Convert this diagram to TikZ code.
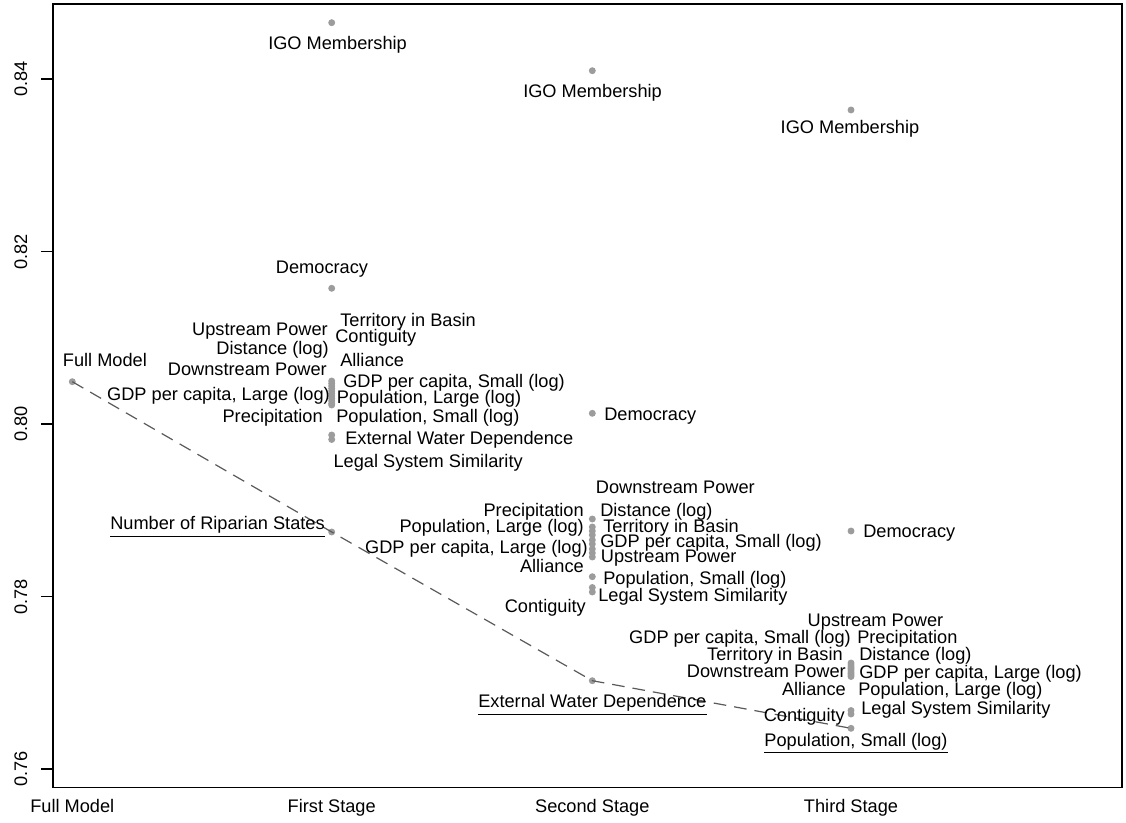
\documentclass[tikz,border=0pt]{standalone}
\usepackage{fontspec}
\setmainfont{Liberation Sans}
\definecolor{ptgray}{HTML}{9C9C9C}
\definecolor{lngray}{HTML}{5A5A5A}
\begin{document}
\begin{tikzpicture}[x=0.75pt,y=-0.75pt,
  lab/.style={font=\fontsize{13.65}{16}\selectfont, inner sep=0pt, text=black},
  L/.style={lab, anchor=base east},
  R/.style={lab, anchor=base west},
  C/.style={lab, anchor=base},
  ylab/.style={lab, rotate=90, anchor=base},
  dot/.style={circle, fill=ptgray, draw=none, inner sep=0pt, minimum size=5.2pt},
  trend/.style={draw=lngray, line width=0.9pt, dash pattern=on 9.5pt off 6pt},
  uline/.style={draw=black, line width=1.1pt},
  frame/.style={draw=black, line width=1.2pt},
  tick/.style={draw=black, line width=1.1pt}]
\useasboundingbox[fill=white] (0,0) rectangle (1126,823);

% frame and axis
\draw[frame] (52.7,4) rectangle (1122,787.3);
\foreach \yy/\tt in {79/0.84, 251.7/0.82, 424/0.80, 596.7/0.78, 769/0.76}{
  \draw[tick] (41,\yy) -- (52.7,\yy);
  \node[ylab] at (27,\yy) {\tt};
}
\node[C] (xf) at (72.3,812) {Full Model};
\node[C] (x1) at (331.7,812) {First Stage};
\node[C] (x2) at (592.3,812) {Second Stage};
\node[C] (x3) at (851,812) {Third Stage};

% ---------- points ----------
% full model
\node[dot] (f0) at (72.3,381.7) {};
% first stage
\node[dot] (a1) at (331.7,22.7) {};
\node[dot] (a2) at (331.7,288.3) {};
\foreach \yy in {381,383.5,386,388.5,391,393.5,396,398.5,401,403.5,405}{
  \node[dot] at (331.7,\yy) {};
}
\node[dot] (a3) at (331.7,435) {};
\node[dot] (a4) at (331.7,439.5) {};
\node[dot] (s1nrs) at (331.7,532) {};
% second stage
\node[dot] (b1) at (592.3,70.7) {};
\node[dot] (b2) at (592.3,413.3) {};
\foreach \yy in {519,527,531,535,540,544,549,553,557}{
  \node[dot] at (592.3,\yy) {};
}
\node[dot] (b3) at (592.3,576.7) {};
\node[dot] (b4) at (592.3,587.5) {};
\node[dot] (b5) at (592.3,592) {};
\node[dot] (s2ewd) at (592.3,680.7) {};
% third stage
\node[dot] (c1) at (851,110) {};
\node[dot] (c2) at (851,531) {};
\foreach \yy in {663,665,667,668.5,670,672,673.5,675,676.5}{
  \node[dot] at (851,\yy) {};
}
\node[dot] (c3) at (851,710.5) {};
\node[dot] (c4) at (851,714) {};
\node[dot] (s3pops) at (851,728.3) {};

% trend line
\draw[trend] (f0.center) -- (s1nrs.center) -- (s2ewd.center) -- (s3pops.center);

% ---------- labels ----------
\node[R] (lf0) at (62.7,366) {Full Model};

% first stage
\node[R] (l1igo) at (268,50) {IGO Membership};
\node[C] (l1dem) at (322,274) {Democracy};
\node[L] (l1up) at (328,335) {Upstream Power};
\node[L] (l1dist) at (329,354) {Distance (log)};
\node[L] (l1down) at (327,375) {Downstream Power};
\node[L] (l1gdpl) at (330,400) {GDP per capita, Large (log)};
\node[L] (l1prec) at (323,422.7) {Precipitation};
\node[R] (l1terr) at (340,326) {Territory in Basin};
\node[R] (l1cont) at (335,342.7) {Contiguity};
\node[R] (l1all) at (340,366) {Alliance};
\node[R] (l1gdps) at (343,387.7) {GDP per capita, Small (log)};
\node[R] (l1popl) at (336.7,403.7) {Population, Large (log)};
\node[R] (l1pops) at (336,422.7) {Population, Small (log)};
\node[R] (l1ewd) at (345,444.3) {External Water Dependence};
\node[R] (l1leg) at (333.3,467.7) {Legal System Similarity};
\node[L] (l1nrs) at (325,529) {Number of Riparian States};
\draw[uline] ([yshift=-5.6pt]l1nrs.base west) -- ([yshift=-5.6pt]l1nrs.base east);

% second stage
\node[R] (l2igo) at (523,98) {IGO Membership};
\node[R] (l2dem) at (604,420) {Democracy};
\node[L] (l2prec) at (584,516.7) {Precipitation};
\node[L] (l2popl) at (584,532) {Population, Large (log)};
\node[L] (l2gdpl) at (588,553.3) {GDP per capita, Large (log)};
\node[L] (l2all) at (584,572) {Alliance};
\node[L] (l2cont) at (586,612.7) {Contiguity};
\node[R] (l2down) at (595.7,493.7) {Downstream Power};
\node[R] (l2dist) at (600,516) {Distance (log)};
\node[R] (l2terr) at (603,532) {Territory in Basin};
\node[R] (l2gdps) at (600,547.7) {GDP per capita, Small (log)};
\node[R] (l2up) at (600.7,562.7) {Upstream Power};
\node[R] (l2pops) at (603,584.3) {Population, Small (log)};
\node[R] (l2leg) at (598,601) {Legal System Similarity};
\node[C] (l2ewd) at (592.3,707) {External Water Dependence};
\draw[uline] ([yshift=-5.6pt]l2ewd.base west) -- ([yshift=-5.6pt]l2ewd.base east);

% third stage
\node[C] (l3igo) at (850,133.3) {IGO Membership};
\node[R] (l3dem) at (863,537) {Democracy};
\node[C] (l3up) at (875.5,626.7) {Upstream Power};
\node[L] (l3gdps) at (851,643.3) {GDP per capita, Small (log)};
\node[L] (l3terr) at (843,660.3) {Territory in Basin};
\node[L] (l3down) at (846,677) {Downstream Power};
\node[L] (l3all) at (846,695.3) {Alliance};
\node[L] (l3cont) at (845,721) {Contiguity};
\node[R] (l3prec) at (857,643.3) {Precipitation};
\node[R] (l3dist) at (859,660.3) {Distance (log)};
\node[R] (l3gdpl) at (859,678.7) {GDP per capita, Large (log)};
\node[R] (l3popl) at (858,695.3) {Population, Large (log)};
\node[R] (l3leg) at (861,714.3) {Legal System Similarity};
\node[C] (l3pops) at (856,746) {Population, Small (log)};
\draw[uline] ([yshift=-5pt]l3pops.base west) -- ([yshift=-5pt]l3pops.base east);
\end{tikzpicture}
\end{document}
